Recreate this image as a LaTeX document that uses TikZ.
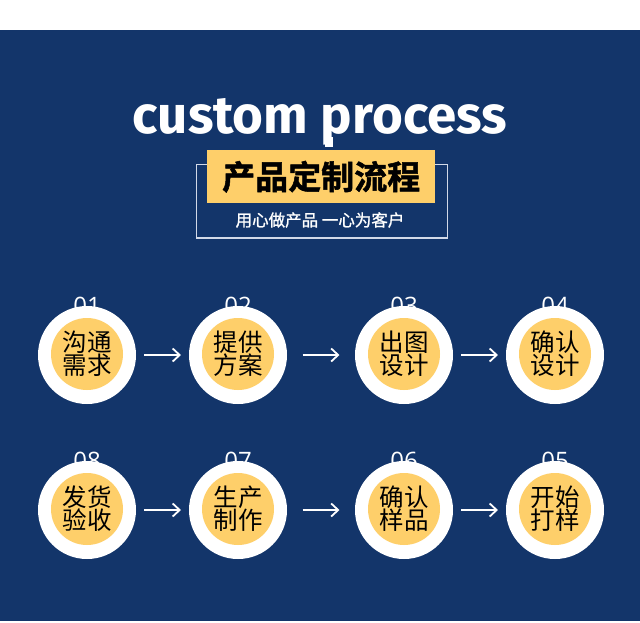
\documentclass[tikz,border=0pt]{standalone}
\usepackage{fontspec}
\setmainfont{Fira Sans}
\newfontfamily\cjk{Noto Sans CJK SC}
\newfontfamily\cjkm[FakeBold=1.2]{Noto Sans CJK SC}
\newfontfamily\cjkb[FakeBold=1.5]{Noto Sans CJK SC Bold}
\newfontfamily\numfont{Open Sans}
\usetikzlibrary{arrows.meta,calc}
\definecolor{navy}{HTML}{13356A}
\definecolor{gold}{HTML}{FECF6A}
\definecolor{frame}{HTML}{D2D9E8}
\tikzset{
  outer/.style={circle,fill=white,minimum size=98pt,inner sep=0pt},
  inner/.style={circle,fill=gold,minimum size=72pt,inner sep=0pt,font=\cjk\fontsize{24.5}{23}\selectfont,align=center,text=black},
  num/.style={text=white,font=\numfont\fontsize{24}{24}\selectfont,anchor=base},
  flow/.style={white,line width=1.8pt,-{Straight Barb[length=7pt,width=13pt,line width=1.8pt]}}
}
\begin{document}
\begin{tikzpicture}[x=1pt,y=-1pt]
\useasboundingbox (0,0) rectangle (640,622);
\fill[white] (0,0) rectangle (640,622);
\fill[navy] (0,29.5) rectangle (640,620.5);
% title
\node[text=white,anchor=base,inner sep=0pt] (title) at (320,133)
  {\resizebox{374pt}{!}{\bfseries custom process}};
% small square
\fill[white] (325,137) rectangle (333,147);
% frame
\draw[frame,line width=1.2pt] (196.5,164.5) rectangle (447.5,238);
\node[fill=gold,minimum width=228pt,minimum height=53pt,inner sep=0pt,anchor=north west,
  font=\cjkb\fontsize{33}{33}\selectfont,text=black] (head) at (207,150) {产品定制流程};
\node[text=white,font=\cjkm\fontsize{16.5}{17}\selectfont] (sub) at (320,220) {用心做产品\ 一心为客户};
% numbers
\node[num] (n1) at (87,314) {01};
\node[num] (n2) at (238,314) {02};
\node[num] (n3) at (404,314) {03};
\node[num] (n4) at (555,314) {04};
\node[num] (n8) at (87,469) {08};
\node[num] (n7) at (238,469) {07};
\node[num] (n6) at (404,469) {06};
\node[num] (n5) at (555,469) {05};
% circles
\node[outer] (c1) at (87,355) {};
\node[outer] (c2) at (238,355) {};
\node[outer] (c3) at (404,355) {};
\node[outer] (c4) at (555,355) {};
\node[outer] (c8) at (87,510) {};
\node[outer] (c7) at (238,510) {};
\node[outer] (c6) at (404,510) {};
\node[outer] (c5) at (555,510) {};
\node[inner] (t1) at ([yshift=1pt]c1) {沟通\\需求};
\node[inner] (t2) at ([yshift=1pt]c2) {提供\\方案};
\node[inner] (t3) at ([yshift=1pt]c3) {出图\\设计};
\node[inner] (t4) at ([yshift=1pt]c4) {确认\\设计};
\node[inner] (t8) at ([yshift=1pt]c8) {发货\\验收};
\node[inner] (t7) at ([yshift=1pt]c7) {生产\\制作};
\node[inner] (t6) at ([yshift=1pt]c6) {确认\\样品};
\node[inner] (t5) at ([yshift=1pt]c5) {开始\\打样};
% arrow end points, centred in each gap
\foreach \a/\b in {c1/c2,c2/c3,c3/c4,c8/c7,c7/c6,c6/c5}{
  \coordinate (\a-s) at ($($(\a.east)!0.5!(\b.west)$)+(-18.5,0)$);
  \coordinate (\a-e) at ($($(\a.east)!0.5!(\b.west)$)+(18.5,0)$);
}
\draw[flow] (c1-s) -- (c1-e);
\draw[flow] (c2-s) -- (c2-e);
\draw[flow] (c3-s) -- (c3-e);
\draw[flow] (c8-s) -- (c8-e);
\draw[flow] (c7-s) -- (c7-e);
\draw[flow] (c6-s) -- (c6-e);
\end{tikzpicture}
\end{document}
